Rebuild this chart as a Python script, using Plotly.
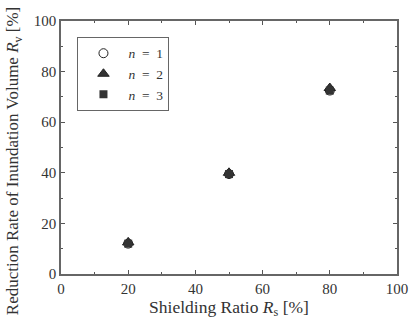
import plotly.graph_objects as go

shielding = [20, 50, 80]
n1 = [12.0, 39.5, 72.5]
n2 = [12.5, 40.0, 73.5]
n3 = [12.0, 39.5, 72.5]
tick_vals = [0, 20, 40, 60, 80, 100]
series_names = ["<i>n</i>\u2002=\u20021", "<i>n</i>\u2002=\u20022", "<i>n</i>\u2002=\u20023"]

FONT = "Liberation Serif"

fig = go.Figure()
fig.add_trace(go.Scatter(x=shielding, y=n1, mode="markers", name=series_names[0],
                         marker=dict(symbol="circle-open", size=9, color="#222", line=dict(width=1))))
fig.add_trace(go.Scatter(x=shielding, y=n2, mode="markers", name=series_names[1],
                         marker=dict(symbol="triangle-up", size=10, color="#333", line=dict(width=1, color="#222"))))
fig.add_trace(go.Scatter(x=shielding, y=n3, mode="markers", name=series_names[2],
                         marker=dict(symbol="square", size=8, color="#333", line=dict(width=0))))

axis_common = dict(
    range=[0, 100], tickvals=tick_vals, ticks="inside", ticklen=4, tickwidth=1,
    tickcolor="#555", linecolor="#666", linewidth=1.5, mirror="ticks", showline=True,
    showgrid=False, zeroline=False,
    minor=dict(ticks="inside", ticklen=2, tickcolor="#555", dtick=10),
    tickfont=dict(family=FONT, size=15, color="#333"),
)

fig.update_xaxes(**axis_common,
                 title=dict(text="Shielding Ratio <i>R</i><sub>s</sub> [%]", standoff=4,
                            font=dict(family=FONT, size=17.5, color="#333")))
fig.update_yaxes(**axis_common)

fig.add_annotation(text="Reduction Rate of Inundation Volume <i>R</i><sub>v</sub> [%]",
                   textangle=-90, xref="paper", yref="paper", x=-0.139, y=0.447,
                   xanchor="center", yanchor="middle", showarrow=False,
                   font=dict(family=FONT, size=17, color="#333"))

fig.update_layout(
    width=420, height=325,
    margin=dict(l=61, r=14, t=21, b=51),
    plot_bgcolor="white", paper_bgcolor="white",
    font=dict(family=FONT),
    legend=dict(x=0.049, y=0.937, xanchor="left", yanchor="top",
                bordercolor="#666", borderwidth=1, bgcolor="white",
                font=dict(family=FONT, size=13.5, color="#333"),
                itemwidth=40, tracegroupgap=0),
    showlegend=True,
)

fig.write_html("out.html")
